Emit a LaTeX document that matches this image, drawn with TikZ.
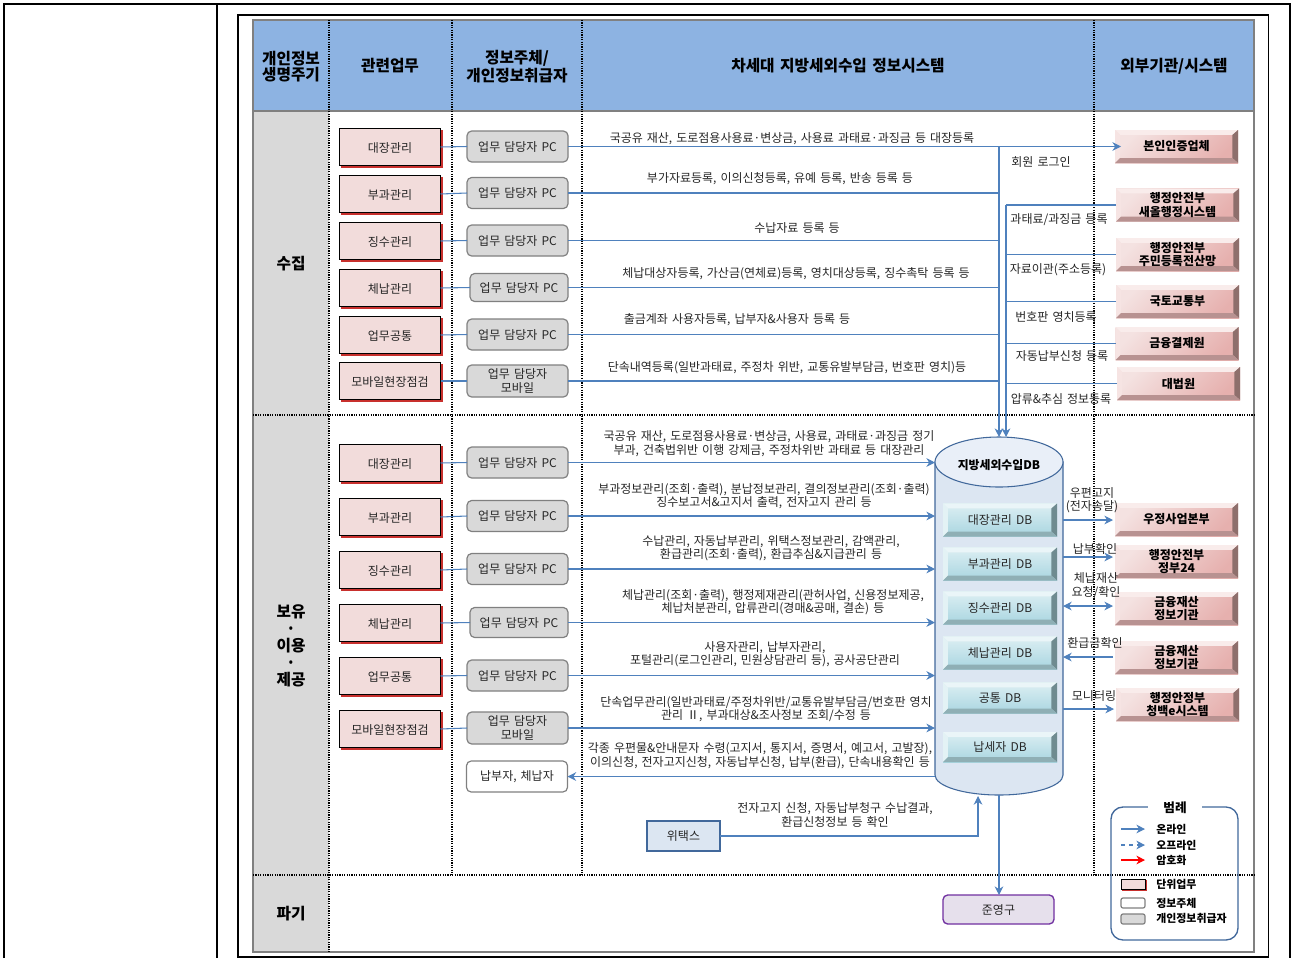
\documentclass[tikz,border=0pt]{standalone}
\usepackage{fontspec}
\usetikzlibrary{arrows.meta,calc}
\setmainfont{Noto Sans CJK KR}[WordSpace=1.5]
\definecolor{hdr}{HTML}{8DB3E2}
\definecolor{side}{HTML}{D9D9D9}
\definecolor{flowc}{HTML}{4F81BD}
\definecolor{dbline}{HTML}{41689B}
\definecolor{txt}{HTML}{262626}
\definecolor{pinkbox}{HTML}{F2DCDB}
\definecolor{shadowred}{HTML}{C8302D}
\definecolor{DBfill}{HTML}{DCE6F2}
\definecolor{DBtop}{HTML}{E9EFF8}
\definecolor{E6purple}{HTML}{E6E0EC}
\definecolor{purpleline}{HTML}{7030A0}
\definecolor{xa}{HTML}{F4E2E1}\definecolor{xb}{HTML}{E6B0AE}\definecolor{xc}{HTML}{F9ECEB}
\definecolor{xd}{HTML}{F6E4E3}\definecolor{xe}{HTML}{8E6F6C}\definecolor{xf}{HTML}{B89291}
\definecolor{ya}{HTML}{DDEFF3}\definecolor{yb}{HTML}{A8D5E0}\definecolor{yc}{HTML}{EAF5F8}
\definecolor{yd}{HTML}{E3F2F5}\definecolor{ye}{HTML}{6F8B90}\definecolor{yf}{HTML}{8FAFB5}
\tikzset{
  x=0.75pt,y=-0.75pt,
  wh/.style 2 args={minimum width=#1*0.75pt,minimum height=#2*0.75pt,inner sep=0pt,outer sep=0pt},
  dots/.style={line width=0.8pt,dash pattern=on 0.9pt off 0.9pt,black},
  flow/.style={draw=flowc,line width=0.8pt,-{Stealth[length=6.5pt,width=6.5pt]}},
  flowboth/.style={draw=flowc,line width=0.8pt,{Stealth[length=6.5pt,width=6.5pt]}-{Stealth[length=6.5pt,width=6.5pt]}},
  link/.style={draw=flowc,line width=0.8pt},
  hd/.style={font=\bfseries\fontsize{11.8}{12}\selectfont,align=center,text=black,yshift=-0.6pt},
  sd/.style={font=\bfseries\fontsize{11.8}{12.8}\selectfont,align=center,text=black,yshift=-0.6pt},
  lb/.style={font=\fontsize{9}{10.1}\selectfont,align=center,text=txt,inner sep=0pt,yshift=-0.5pt},
  job/.style={wh={101}{37},draw=black,line width=0.9pt,fill=pinkbox,font=\fontsize{9}{10}\selectfont,text=txt,text height=8.5pt,text depth=0pt,
    preaction={draw=shadowred,fill=shadowred,transform canvas={shift={(1.2pt,-1.2pt)}}}},
  actor/.style={wh={101}{31},draw=black!50,line width=0.9pt,fill=side,rounded corners=3.5pt,font=\fontsize{9}{10}\selectfont,align=center,text=txt},
  whitebox/.style={actor,fill=white},
  bevel/.style n args={7}{wh={123}{33},align=center,
    path picture={
      \coordinate (pa) at (path picture bounding box.north west);
      \coordinate (pb) at (path picture bounding box.north east);
      \coordinate (pc) at (path picture bounding box.south east);
      \coordinate (pd) at (path picture bounding box.south west);
      \coordinate (qa) at ([shift={(3.7pt,-3.7pt)}]pa);
      \coordinate (qb) at ([shift={(-4.2pt,-3.7pt)}]pb);
      \coordinate (qc) at ([shift={(-4.2pt,3.7pt)}]pc);
      \coordinate (qd) at ([shift={(3.7pt,3.7pt)}]pd);
      \shade[top color=#1,bottom color=#2,shading angle=#7] (pa) rectangle (pc);
      \fill[#3] (pa)--(pb)--(qb)--(qa)--cycle;
      \fill[#4] (pa)--(pd)--(qd)--(qa)--cycle;
      \fill[#5] (pb)--(pc)--(qc)--(qb)--cycle;
      \fill[#6] (pd)--(pc)--(qc)--(qd)--cycle;
    }},
  ext/.style={bevel={xa}{xb}{xc}{xd}{xe}{xf}{45},font=\bfseries\fontsize{9}{10}\selectfont,text=black},
  dbbox/.style={bevel={ya}{yb}{yc}{yd}{ye}{yf}{0},wh={114}{33},font=\fontsize{9}{10}\selectfont,text=txt},
  legtxt/.style={font=\bfseries\fontsize{8.2}{9}\selectfont,anchor=west,inner sep=0pt,text=black,yshift=-0.4pt},
}
\begin{document}
\begin{tikzpicture}
\useasboundingbox (0,0) rectangle (1291,958);
% page table
\draw[black,line width=0.8pt] (4,958)--(4,4)--(1290,4)--(1290,958);
\draw[black,line width=0.8pt] (217,4)--(217,958);
\draw[black,line width=0.8pt] (238,15) rectangle (1268.5,957);
% panel
\fill[hdr] (253,20) rectangle (1254,111);
\fill[side] (253,111) rectangle (329,952);
\draw[black!50,line width=0.9pt] (253,20) rectangle (1254,952);
\draw[black!50,line width=0.9pt] (253,111)--(1254,111);
\draw[dots] (329,20)--(329,952);
\draw[dots] (452,20)--(452,875);
\draw[dots] (582,20)--(582,875);
\draw[dots] (1094,20)--(1094,875);
\draw[dots] (253,415)--(1254,415);
\draw[dots] (253,875)--(1254,875);
% headers
\node[hd] (h1) at (291,65.5) {개인정보\\생명주기};
\node[hd] (h2) at (390,65) {관련업무};
\node[hd] (h3) at (517,66) {정보주체/\\개인정보취급자};
\node[hd] (h4) at (838,65) {차세대 지방세외수입 정보시스템};
\node[hd] (h5) at (1174,65) {외부기관/시스템};
\node[sd] (s1) at (291,263) {수집};
\node[sd] (s2) at (291,645) {보유\\·\\이용\\·\\제공};
\node[sd] (s3) at (291,913) {파기};
% database
\node[wh={128}{358}] (db) at (999,616) {};
\filldraw[draw=dbline,fill=DBfill,line width=0.8pt] (935,462)--(935,775) arc[start angle=180,end angle=0,x radius=64,y radius=20]--(1063,462)--cycle;
\filldraw[draw=dbline,fill=DBtop,line width=0.8pt] (999,462) ellipse[x radius=64,y radius=25];
\node[font=\bfseries\fontsize{8.9}{10}\selectfont,text=black] (dbt) at (999,465) {지방세외수입DB};
\node[dbbox] (d1) at (1000,520) {대장관리 DB};
\node[dbbox] (d2) at (1000,564) {부과관리 DB};
\node[dbbox] (d3) at (1000,608) {징수관리 DB};
\node[dbbox] (d4) at (1000,653) {체납관리 DB};
\node[dbbox,wh={114}{31}] (d5) at (1000,698) {공통 DB};
\node[dbbox,wh={114}{30}] (d6) at (1000,747) {납세자 DB};
% collection jobs and actors
\node[job] (a1) at (390,147) {대장관리};
\node[job] (a2) at (390,194) {부과관리};
\node[job] (a3) at (390,241) {징수관리};
\node[job] (a4) at (390,288) {체납관리};
\node[job] (a5) at (390,335) {업무공통};
\node[job] (a6) at (390,381) {모바일현장점검};
\node[actor] (b1) at (517.5,146.5) {업무 담당자 PC};
\node[actor] (b2) at (517.5,193) {업무 담당자 PC};
\node[actor] (b3) at (517.5,240.5) {업무 담당자 PC};
\node[actor,wh={98}{28}] (b4) at (519,287.5) {업무 담당자 PC};
\node[actor] (b5) at (517.5,334.5) {업무 담당자 PC};
\node[actor,wh={101}{32}] (b6) at (517.5,381) {업무 담당자\\모바일};
\foreach \i in {1,...,6}{\draw[link] (a\i.east)--(b\i.west);}
% external collection
\node[ext] (e1) at (1176.5,146.5) {본인인증업체};
\node[ext] (e2) at (1177.5,205) {행정안전부\\새올행정시스템};
\node[ext] (e3) at (1177.5,254.5) {행정안전부\\주민등록전산망};
\node[ext] (e4) at (1177.5,301.5) {국토교통부};
\node[ext] (e5) at (1177,343.5) {금융결제원};
\node[ext] (e6) at (1178.5,383.5) {대법원};
% buses
\coordinate (busa) at (999,437);
\coordinate (busb) at (1006,437);
\coordinate (e1in) at (1121,146.5);
\draw[flow] (b1.east)--(e1in);
\foreach \i in {2,...,6}{\draw[link] (b\i.east)--(b\i.east -| busa);}
\draw[flow] (b1.east -| busa)--(busa);
\draw[flow] (e2.west -| busb)--(busb);
\foreach \i in {2,...,6}{\draw[link] (e\i.west)--(e\i.west -| busb);}
% collection labels
\node[lb] (l1) at (792,138) {국공유 재산, 도로점용사용료·변상금, 사용료 과태료·과징금 등 대장등록};
\node[lb] (l2) at (780,178) {부가자료등록, 이의신청등록, 유예 등록, 반송 등록 등};
\node[lb] (l3) at (797,227) {수납자료 등록 등};
\node[lb] (l4) at (796,273) {체납대상자등록, 가산금(연체료)등록, 영치대상등록, 징수촉탁 등록 등};
\node[lb] (l5) at (737,319) {출금계좌 사용자등록, 납부자\&사용자 등록 등};
\node[lb] (l6) at (787,367) {단속내역등록(일반과태료, 주정차 위반, 교통유발부담금, 번호판 영치)등};
\node[lb] (r1) at (1041,161) {회원 로그인};
\node[lb] (r2) at (1059,219) {과태료/과징금 등록};
\node[lb] (r3) at (1058,269) {자료이관(주소등록)};
\node[lb] (r4) at (1056,316) {번호판 영치등록};
\node[lb] (r5) at (1062,355) {자동납부신청 등록};
\node[lb] (r6) at (1061,398) {압류\&추심 정보등록};
% usage jobs and actors
\node[job] (c1) at (390,463) {대장관리};
\node[job] (c2) at (390,517) {부과관리};
\node[job] (c3) at (390,570) {징수관리};
\node[job] (c4) at (390,623) {체납관리};
\node[job] (c5) at (390,676) {업무공통};
\node[job] (c6) at (390,729) {모바일현장점검};
\node[actor] (f1) at (517.5,462.5) {업무 담당자 PC};
\node[actor] (f2) at (517.5,516) {업무 담당자 PC};
\node[actor] (f3) at (517.5,569) {업무 담당자 PC};
\node[actor,wh={98}{30}] (f4) at (519,622.5) {업무 담당자 PC};
\node[actor] (f5) at (517.5,675.5) {업무 담당자 PC};
\node[actor,wh={101}{32}] (f6) at (517.5,728) {업무 담당자\\모바일};
\node[whitebox] (f7) at (517,776.5) {납부자, 체납자};
\foreach \i in {1,...,6}{\draw[link] (c\i.east)--(f\i.west);\draw[flow] (f\i.east)--(f\i.east -| db.west);}
\draw[flow] (f7.east -| db.west)--(f7.east);
% usage labels
\node[lb] (m1) at (769,443) {국공유 재산, 도로점용사용료·변상금, 사용료, 과태료·과징금 정기\\부과, 건축법위반 이행 강제금, 주정차위반 과태료 등 대장관리};
\node[lb] (m2) at (764,495.5) {부과정보관리(조회·출력), 분납정보관리, 결의정보관리(조회·출력)\\징수보고서\&고지서 출력, 전자고지 관리 등};
\node[lb] (m3) at (771,547.5) {수납관리, 자동납부관리, 위택스정보관리, 감액관리,\\환급관리(조회·출력), 환급추심\&지급관리 등};
\node[lb] (m4) at (773,601.5) {체납관리(조회·출력), 행정제재관리(관허사업, 신용정보제공,\\체납처분관리, 압류관리(경매\&공매, 결손) 등};
\node[lb] (m5) at (765,653.5) {사용자관리, 납부자관리,\\포털관리(로그인관리, 민원상담관리 등), 공사공단관리};
\node[lb] (m6) at (766,708.5) {단속업무관리(일반과태료/주정차위반/교통유발부담금/번호판 영치\\관리 Ⅱ, 부과대상\&조사정보 조회/수정 등};
\node[lb] (m7) at (760,755) {각종 우편물\&안내문자 수령(고지서, 통지서, 증명서, 예고서, 고발장),\\이의신청, 전자고지신청, 자동납부신청, 납부(환급), 단속내용확인 등};
\node[lb] (m8) at (835,814.5) {전자고지 신청, 자동납부청구 수납결과,\\환급신청정보 등 확인};
% wetax and archive
\node[wh={73}{30},draw=dbline,line width=1pt,fill=DBfill,font=\fontsize{9}{10}\selectfont,text=txt] (w) at (683.5,836) {위택스};
\coordinate (wt) at (978,796);
\draw[flow] (w.east)-|(wt);
\node[wh={111}{29},draw=purpleline,line width=1pt,fill=E6purple,rounded corners=3.5pt,font=\fontsize{9}{10}\selectfont,text=txt] (z) at (998.5,909.5) {준영구};
\draw[flow] (db.south)--(db.south |- z.north);
% external usage
\node[ext] (g1) at (1176.5,519.5) {우정사업본부};
\node[ext] (g2) at (1176.5,561.5) {행정안전부\\정부24};
\node[ext] (g3) at (1176.5,608.5) {금융재산\\정보기관};
\node[ext] (g4) at (1176.5,657.5) {금융재산\\정보기관};
\node[ext] (g5) at (1177.5,704.5) {행정안정부\\청백e시스템};
\coordinate (t1) at (1113,520);
\coordinate (t2) at (1113,557);
\coordinate (t3) at (1113,606);
\coordinate (t4) at (1113,657);
\coordinate (t5) at (1114,709);
\draw[flow] (t1 -| db.east)--(t1);
\draw[flow] (t2 -| db.east)--(t2);
\draw[flowboth] (t3 -| db.east)--(t3);
\draw[flow] (t4)--(t4 -| db.east);
\draw[flow] (t5 -| db.east)--(t5);
\node[lb] (n1) at (1092,499.5) {우편고지\\(전자송달)};
\node[lb] (n2) at (1095,548) {납부확인};
\node[lb] (n3) at (1096,585) {체납재산\\요청/확인};
\node[lb] (n4) at (1095,642) {환급금확인};
\node[lb] (n5) at (1094,695) {모니터링};
% legend
\node[wh={127}{133},draw=dbline,line width=1pt,rounded corners=9pt] (leg) at (1174.5,873.5) {};
\node[fill=white,wh={54}{14},font=\bfseries\fontsize{9.5}{10}\selectfont,text=black] (legt) at (1175,807.5) {범례};
\coordinate (p1) at (1121,829); \coordinate (p2) at (1145,829);
\coordinate (p3) at (1121,845); \coordinate (p4) at (1145,845);
\coordinate (p5) at (1121,860); \coordinate (p6) at (1145,860);
\draw[flow] (p1)--(p2);
\draw[flow,dashed] (p3)--(p4);
\draw[flow,draw=red] (p5)--(p6);
\node[legtxt] (t-a) at (1156,829) {온라인};
\node[legtxt] (t-b) at (1156,845) {오프라인};
\node[legtxt] (t-c) at (1156,860) {암호화};
\node[job,wh={24}{10},line width=0.7pt,text height=0pt] (k1) at (1133,884) {};
\node[whitebox,wh={24}{10},rounded corners=1.5pt] (k2) at (1133,903) {};
\node[actor,wh={24}{10},rounded corners=1.5pt] (k3) at (1133,919) {};
\node[legtxt] (t-d) at (1156,884) {단위업무};
\node[legtxt] (t-e) at (1156,903) {정보주체};
\node[legtxt] (t-f) at (1156,918) {개인정보취급자};
\end{tikzpicture}
\end{document}
